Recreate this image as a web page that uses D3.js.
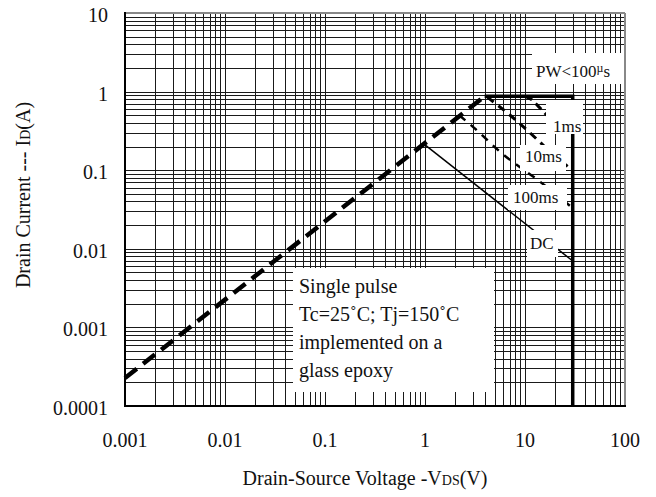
<!DOCTYPE html>
<html>
<head>
<meta charset="utf-8">
<script src="https://cdn.jsdelivr.net/npm/d3@7"></script>
<style>
  body { margin: 0; background: #fff; }
  text { font-family: "Liberation Serif", "Times New Roman", serif; fill: #111; }
</style>
</head>
<body>
<div id="graph"></div>
<script>
var xTicks = [0.001, 0.01, 0.1, 1, 10, 100]
var xTickLabels = ["0.001", "0.01", "0.1", "1", "10", "100"]
var yTicks = [0.0001, 0.001, 0.01, 0.1, 1, 10]
var yTickLabels = ["0.0001", "0.001", "0.01", "0.1", "1", "10"]

// PW<100us limit: Rds(on) ramp, then current limit, then voltage limit
var rampV = [0.001, 3.95]
var rampI = [0.000227, 0.87]
var limitV = [3.95, 30, 30]
var limitI = [0.87, 0.87, 0.0001]

var ms1V = [10, 11.5, 14.1, 16.6, 22, 30]
var ms1I = [0.87, 0.8, 0.62, 0.5, 0.38, 0.3]
var ms10V = [4.2, 8, 13.5, 20, 30]
var ms10I = [0.85, 0.44, 0.24, 0.15, 0.1]
var ms100V = [2.2, 3.1, 5.8, 14, 30]
var ms100I = [0.5, 0.345, 0.166, 0.072, 0.033]
var dcV = [1, 30]
var dcI = [0.21, 0.007]

var noteLines = ["Single pulse", "Tc=25\u02DAC; Tj=150\u02DAC", "implemented on a", "glass epoxy"]

const width = 656
const height = 497

const svg = d3.select("#graph")
    .append("svg")
        .attr("width", width)
        .attr("height", height)

const x = d3.scaleLog().domain([0.001, 100]).range([125, 625])
const y = d3.scaleLog().domain([0.0001, 10]).range([406, 13])

const zip = (a, b) => a.map((d, i) => [d, b[i]])
const line = d3.line().x(d => x(d[0])).y(d => y(d[1]))
const curve = d3.line().x(d => x(d[0])).y(d => y(d[1])).curve(d3.curveMonotoneX)

// grid
const grid = svg.append("g").attr("shape-rendering", "crispEdges")
grid.selectAll(".vx")
    .data(x.ticks())
    .enter().append("line")
        .attr("x1", d => Math.round(x(d)) + 0.5).attr("x2", d => Math.round(x(d)) + 0.5)
        .attr("y1", 13).attr("y2", 406)
        .attr("stroke", "#1a1a1a").attr("stroke-width", 1)
grid.selectAll(".hy")
    .data(y.ticks())
    .enter().append("line")
        .attr("y1", d => Math.round(y(d)) + 0.5).attr("y2", d => Math.round(y(d)) + 0.5)
        .attr("x1", 125).attr("x2", 625)
        .attr("stroke", "#1a1a1a").attr("stroke-width", 1)

// frame
svg.append("line").attr("x1", 125).attr("x2", 625).attr("y1", 13).attr("y2", 13).attr("stroke", "#888").attr("stroke-width", 2)
svg.append("line").attr("x1", 625).attr("x2", 625).attr("y1", 13).attr("y2", 406).attr("stroke", "#888").attr("stroke-width", 2)
svg.append("line").attr("x1", 125).attr("x2", 125).attr("y1", 12).attr("y2", 407).attr("stroke", "#000").attr("stroke-width", 2)
svg.append("line").attr("x1", 124).attr("x2", 626).attr("y1", 406).attr("y2", 406).attr("stroke", "#000").attr("stroke-width", 2)

// curves
svg.append("path").datum(zip(rampV, rampI))
    .attr("d", line).attr("fill", "none").attr("stroke", "#000")
    .attr("stroke-width", 4.5).attr("stroke-dasharray", "15,8")
svg.append("path").datum(zip(limitV, limitI))
    .attr("d", line).attr("fill", "none").attr("stroke", "#000").attr("stroke-width", 3.5)

svg.append("path").datum(zip(ms1V, ms1I))
    .attr("d", curve).attr("fill", "none").attr("stroke", "#000")
    .attr("stroke-width", 3).attr("stroke-dasharray", "8,5")
svg.append("path").datum(zip(ms10V, ms10I))
    .attr("d", curve).attr("fill", "none").attr("stroke", "#000")
    .attr("stroke-width", 3).attr("stroke-dasharray", "8,6")
svg.append("path").datum(zip(ms100V, ms100I))
    .attr("d", curve).attr("fill", "none").attr("stroke", "#000")
    .attr("stroke-width", 2.5).attr("stroke-dasharray", "8,7")
svg.append("path").datum(zip(dcV, dcI))
    .attr("d", line).attr("fill", "none").attr("stroke", "#000").attr("stroke-width", 1.5)

// label boxes
var labels = [
    { t: "1ms", box: [546, 100, 37, 34], tx: 553, ty: 132 },
    { t: "10ms", box: [520, 145, 46, 26], tx: 525, ty: 162 },
    { t: "100ms", box: [508, 185, 59, 25], tx: 513, ty: 203 },
    { t: "DC", box: [527, 230, 31, 27], tx: 530, ty: 249 }
]
labels.forEach(l => {
    svg.append("rect").attr("x", l.box[0]).attr("y", l.box[1]).attr("width", l.box[2]).attr("height", l.box[3]).attr("fill", "#fff")
    svg.append("text").attr("x", l.tx).attr("y", l.ty).attr("font-size", 17).text(l.t)
})

svg.append("rect").attr("x", 532).attr("y", 53).attr("width", 92).attr("height", 31).attr("fill", "#fff")
const pw = svg.append("text").attr("x", 536).attr("y", 77).attr("font-size", 17)
pw.append("tspan").text("PW<100")
pw.append("tspan").attr("font-size", 12).attr("dy", -5).text("\u00B5")
pw.append("tspan").attr("dy", 5).text("s")

// note box
svg.append("rect").attr("x", 293).attr("y", 268).attr("width", 201).attr("height", 124).attr("fill", "#fff")
svg.selectAll(".note")
    .data(noteLines)
    .enter().append("text")
        .attr("x", 299)
        .attr("y", (d, i) => 293 + i * 28)
        .attr("font-size", 20)
        .text(d => d)

// tick labels
svg.selectAll(".xl")
    .data(xTicks)
    .enter().append("text")
        .attr("x", d => x(d)).attr("y", 447)
        .attr("text-anchor", "middle").attr("font-size", 20)
        .text((d, i) => xTickLabels[i])
svg.selectAll(".yl")
    .data(yTicks)
    .enter().append("text")
        .attr("x", 108).attr("y", d => y(d) + 9)
        .attr("text-anchor", "end").attr("font-size", 20)
        .text((d, i) => yTickLabels[i])

// axis titles
const xt = svg.append("text").attr("x", 365).attr("y", 485).attr("text-anchor", "middle").attr("font-size", 20)
xt.append("tspan").text("Drain-Source Voltage -V")
xt.append("tspan").attr("font-size", 14).text("DS")
xt.append("tspan").text("(V)")

const yt = svg.append("text").attr("transform", "translate(30,195) rotate(-90)").attr("text-anchor", "middle").attr("font-size", 20)
yt.append("tspan").text("Drain Current --- I")
yt.append("tspan").attr("font-size", 14).text("D")
yt.append("tspan").text("(A)")
</script>
</body>
</html>
